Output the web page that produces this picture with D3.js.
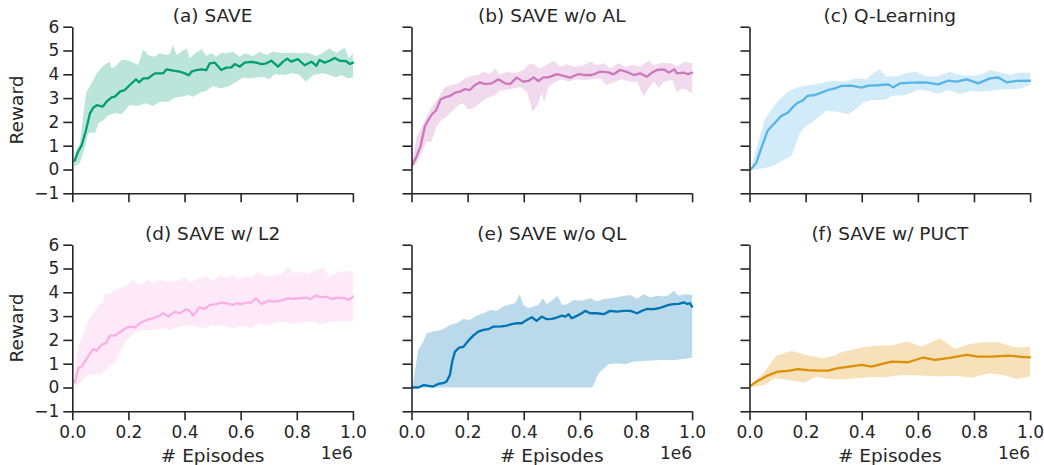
<!DOCTYPE html>
<html><head><meta charset="utf-8">
<script src="https://cdn.jsdelivr.net/npm/d3@7"></script>
<style>
body{margin:0;background:#fff;}
svg{display:block;font-family:"DejaVu Sans",sans-serif;}
</style></head><body>
<svg id="chart" width="1044" height="465"></svg>
<script>
// ---------- data (x in units of 1e6 episodes) ----------
const titles = ["(a) SAVE","(b) SAVE w/o AL","(c) Q-Learning","(d) SAVE w/ L2","(e) SAVE w/o QL","(f) SAVE w/ PUCT"];
const colors = ["#029e73","#cc78bc","#56b4e9","#fbafe4","#0173b2","#de8f05"];
const xTicks = [0,0.2,0.4,0.6,0.8,1.0];
const xTickLabels = ["0.0","0.2","0.4","0.6","0.8","1.0"];
const yTicks = [-1,0,1,2,3,4,5,6];
const yTickLabels = ["\u22121","0","1","2","3","4","5","6"];
const xLabel = "# Episodes", yLabel = "Reward", xOffsetLabel = "1e6";

const aMean = [[.008,.36],[.021,.76],[.033,1.0],[.049,1.66],[.063,2.36],[.075,2.6],[.087,2.7],[.108,2.64],[.122,2.85],[.14,3.03],[.152,3.06],[.17,3.27],[.187,3.34],[.205,3.55],[.227,3.79],[.238,3.66],[.253,3.83],[.27,3.83],[.294,4.04],[.324,4.04],[.336,4.21],[.36,4.15],[.383,4.11],[.401,4.04],[.415,3.96],[.425,4.11],[.442,4.18],[.46,4.21],[.478,4.18],[.49,4.46],[.508,4.49],[.531,4.18],[.549,4.28],[.567,4.29],[.579,4.43],[.597,4.32],[.614,4.49],[.638,4.52],[.656,4.49],[.674,4.43],[.692,4.46],[.709,4.57],[.733,4.32],[.751,4.53],[.766,4.66],[.78,4.53],[.804,4.64],[.828,4.38],[.852,4.53],[.87,4.36],[.881,4.6],[.899,4.49],[.917,4.57],[.935,4.69],[.953,4.57],[.976,4.55],[.99,4.43],[1,4.49]];
const aUpper = [[.008,.62],[.027,1.1],[.049,3.23],[.069,3.62],[.087,4.04],[.11,4.35],[.132,4.53],[.14,4.25],[.152,4.32],[.176,4.6],[.193,4.6],[.211,4.53],[.235,4.39],[.253,5.05],[.27,4.81],[.294,4.74],[.312,4.88],[.336,4.81],[.348,4.88],[.359,5.23],[.371,4.81],[.389,4.95],[.407,5.09],[.419,4.67],[.437,4.88],[.46,5.05],[.478,4.77],[.496,4.88],[.514,4.74],[.531,4.92],[.549,4.88],[.573,4.95],[.597,4.74],[.614,4.88],[.644,4.77],[.668,4.95],[.692,4.81],[.715,4.95],[.745,4.88],[.775,4.91],[.81,4.88],[.84,4.91],[.87,4.77],[.893,4.91],[.917,5.09],[.941,4.88],[.97,5.13],[.986,4.67],[1,4.88]];
const aLower = [[.008,.13],[.027,.27],[.045,.97],[.057,1.52],[.069,1.55],[.081,1.52],[.093,1.94],[.11,2.06],[.128,2.29],[.152,2.36],[.176,2.32],[.205,2.71],[.235,2.67],[.259,2.78],[.288,2.67],[.312,2.85],[.342,2.85],[.365,3.03],[.389,3.06],[.413,3.13],[.431,3.06],[.454,3.23],[.478,3.31],[.502,3.51],[.526,3.41],[.555,3.48],[.585,3.69],[.609,3.87],[.632,3.82],[.656,3.87],[.68,3.9],[.703,3.79],[.721,4.01],[.751,3.97],[.787,4.04],[.81,3.97],[.832,3.69],[.858,3.97],[.893,4.04],[.917,3.97],[.938,3.87],[.958,3.97],[.982,3.83],[1,3.87]];

const bMean = [[.004,.22],[.018,.55],[.032,.97],[.048,1.83],[.06,2.08],[.071,2.29],[.087,2.48],[.104,2.95],[.119,3.03],[.137,3.09],[.155,3.23],[.173,3.27],[.19,3.38],[.208,3.34],[.226,3.55],[.244,3.66],[.262,3.59],[.286,3.62],[.31,3.79],[.333,3.62],[.351,3.59],[.375,3.86],[.399,3.69],[.417,3.72],[.435,3.87],[.452,3.72],[.47,3.87],[.488,3.87],[.518,4.01],[.542,3.93],[.565,3.86],[.595,4.01],[.619,3.97],[.643,3.97],[.673,4.11],[.702,4.08],[.72,4.0],[.744,4.18],[.768,4.1],[.792,3.97],[.815,4.04],[.839,3.9],[.857,4.07],[.875,4.18],[.899,4.21],[.917,4.07],[.937,4.21],[.946,4.04],[.97,4.07],[.985,4.0],[1,4.07]];
const bUpper = [[.004,.41],[.018,1.38],[.032,1.66],[.048,2.08],[.071,2.62],[.095,2.99],[.119,3.48],[.143,3.55],[.167,3.62],[.196,3.87],[.214,3.93],[.238,3.97],[.256,4.11],[.28,4.01],[.298,4.25],[.315,3.97],[.339,4.11],[.369,4.04],[.399,4.18],[.417,4.42],[.435,4.43],[.458,4.25],[.482,4.39],[.508,4.57],[.53,4.32],[.554,4.42],[.577,4.32],[.607,4.35],[.637,4.53],[.661,4.39],[.685,4.46],[.708,4.25],[.738,4.46],[.762,4.32],[.792,4.39],[.815,4.32],[.845,4.57],[.863,4.39],[.893,4.49],[.923,4.46],[.946,4.35],[.976,4.53],[1,4.46]];
const bLower = [[.004,.08],[.018,.24],[.036,.69],[.054,1.17],[.071,1.17],[.089,1.8],[.107,2.08],[.125,2.22],[.149,2.5],[.167,2.71],[.185,2.78],[.202,2.53],[.22,2.57],[.244,2.78],[.268,2.99],[.298,3.13],[.315,3.31],[.339,3.34],[.363,3.41],[.387,3.48],[.411,3.27],[.432,2.43],[.449,2.71],[.464,3.2],[.473,2.81],[.488,3.48],[.512,3.69],[.536,3.79],[.56,3.69],[.583,3.79],[.613,3.76],[.643,3.79],[.673,3.83],[.696,3.55],[.726,3.69],[.75,3.79],[.78,3.69],[.804,3.69],[.827,3.06],[.845,3.41],[.863,3.69],[.881,3.41],[.899,3.69],[.929,3.76],[.946,3.23],[.964,3.41],[.982,3.34],[1,3.2]];

const cMean = [[.004,0],[.024,.27],[.042,.9],[.065,1.64],[.089,1.94],[.113,2.25],[.137,2.39],[.158,2.67],[.173,2.81],[.19,2.9],[.206,3.09],[.232,3.13],[.256,3.23],[.28,3.34],[.304,3.41],[.327,3.51],[.363,3.52],[.399,3.44],[.423,3.52],[.458,3.54],[.494,3.58],[.512,3.45],[.536,3.62],[.577,3.65],[.625,3.66],[.673,3.58],[.708,3.73],[.738,3.69],[.774,3.79],[.815,3.62],[.857,3.83],[.887,3.87],[.917,3.66],[.952,3.72],[1,3.73]];
const cUpper = [[.004,0],[.03,1.1],[.054,2.08],[.077,2.5],[.107,2.95],[.137,3.27],[.167,3.44],[.196,3.52],[.244,3.59],[.292,3.73],[.339,3.69],[.381,3.83],[.417,3.79],[.44,4.04],[.464,4.21],[.488,3.9],[.53,3.93],[.565,4.07],[.595,4.11],[.631,3.9],[.673,3.93],[.714,4.11],[.75,3.97],[.792,3.93],[.827,4.0],[.857,4.18],[.899,4.07],[.929,3.97],[.958,4.08],[1,4.07]];
const cLower = [[.004,0],[.03,.01],[.077,.13],[.113,.34],[.149,.57],[.179,1.52],[.202,1.83],[.232,2.06],[.274,2.48],[.315,2.43],[.351,2.32],[.375,2.5],[.405,2.81],[.435,2.92],[.482,2.92],[.506,3.09],[.554,3.13],[.601,3.34],[.637,3.31],[.673,3.17],[.708,3.34],[.75,3.17],[.792,3.31],[.815,3.27],[.863,3.31],[.911,3.37],[.958,3.38],[1,3.55]];

const dMean = [[.009,.22],[.021,.81],[.033,.88],[.051,1.2],[.075,1.62],[.087,1.55],[.104,1.79],[.12,1.86],[.134,2.18],[.152,2.18],[.17,2.32],[.193,2.52],[.211,2.56],[.223,2.52],[.241,2.7],[.265,2.84],[.288,2.91],[.312,3.02],[.324,3.12],[.342,2.98],[.365,3.19],[.383,3.12],[.405,3.29],[.419,3.22],[.431,3.02],[.454,3.37],[.472,3.3],[.49,3.47],[.514,3.5],[.531,3.57],[.549,3.54],[.573,3.47],[.585,3.54],[.603,3.5],[.62,3.57],[.638,3.57],[.654,3.75],[.674,3.51],[.698,3.64],[.721,3.61],[.739,3.64],[.769,3.75],[.786,3.72],[.81,3.75],[.834,3.78],[.848,3.71],[.867,3.86],[.887,3.79],[.905,3.82],[.923,3.72],[.947,3.78],[.97,3.75],[.986,3.68],[1,3.82]];
const dUpper = [[.009,.53],[.021,1.79],[.039,2.21],[.057,2.84],[.075,3.12],[.096,3.5],[.11,3.54],[.116,3.96],[.134,3.92],[.152,4.1],[.17,4.17],[.193,4.31],[.217,4.52],[.235,4.31],[.253,4.38],[.27,4.52],[.288,4.38],[.312,4.52],[.336,4.45],[.359,4.45],[.383,4.52],[.401,4.62],[.419,4.38],[.448,4.59],[.478,4.66],[.502,4.48],[.526,4.73],[.549,4.59],[.573,4.76],[.591,4.52],[.614,4.66],[.638,4.62],[.662,4.84],[.686,4.66],[.715,4.73],[.745,4.76],[.769,5.03],[.786,4.8],[.81,4.87],[.84,4.76],[.87,4.94],[.893,5.03],[.917,4.66],[.947,4.84],[.976,4.9],[1,4.87]];
const dLower = [[.009,0],[.027,.18],[.051,.5],[.075,.56],[.098,.56],[.116,.67],[.134,.95],[.152,1.02],[.17,1.51],[.193,2.0],[.223,2.32],[.253,2.42],[.288,2.42],[.324,2.49],[.348,2.42],[.383,2.56],[.419,2.63],[.442,2.56],[.466,2.49],[.502,2.63],[.537,2.6],[.573,2.49],[.609,2.6],[.638,2.49],[.668,2.7],[.692,2.6],[.721,2.7],[.757,2.77],[.786,2.66],[.816,2.74],[.846,2.77],[.881,2.66],[.917,2.74],[.958,2.8],[1,2.77]];

const eMean = [[.004,0],[.024,0],[.044,.1],[.06,.07],[.077,.04],[.095,.15],[.113,.18],[.125,.25],[.137,.53],[.145,1.09],[.155,1.51],[.17,1.68],[.185,1.71],[.202,1.96],[.22,2.18],[.238,2.35],[.256,2.42],[.274,2.45],[.292,2.56],[.321,2.57],[.339,2.6],[.357,2.66],[.375,2.7],[.393,2.7],[.411,2.84],[.429,2.95],[.446,2.8],[.464,2.98],[.482,2.87],[.5,2.88],[.518,2.94],[.536,3.02],[.548,2.98],[.56,3.08],[.571,2.91],[.589,3.01],[.607,3.12],[.619,3.22],[.637,3.12],[.661,3.12],[.685,3.08],[.708,3.22],[.732,3.19],[.756,3.22],[.78,3.22],[.804,3.12],[.821,3.22],[.839,3.3],[.863,3.29],[.881,3.33],[.899,3.4],[.917,3.47],[.935,3.5],[.952,3.51],[.97,3.58],[.982,3.51],[.992,3.54],[1,3.4]];
const eUpper = [[.004,0],[.012,.67],[.024,1.58],[.042,1.93],[.054,2.28],[.077,2.35],[.107,2.42],[.137,2.63],[.161,2.7],[.185,2.88],[.208,2.84],[.232,3.02],[.256,3.12],[.28,3.26],[.304,3.22],[.327,3.4],[.351,3.5],[.369,3.54],[.385,3.92],[.399,3.47],[.417,3.33],[.435,3.4],[.452,3.47],[.468,3.75],[.482,3.5],[.5,3.64],[.52,3.86],[.536,3.47],[.554,3.5],[.577,3.68],[.607,3.64],[.637,3.75],[.661,3.61],[.685,3.72],[.714,3.75],[.744,3.82],[.78,3.89],[.804,3.72],[.827,3.92],[.851,3.78],[.875,3.86],[.899,3.82],[.917,3.89],[.935,4.06],[.952,3.86],[.976,3.92],[1,3.89]];
const eLower = [[.004,0],[.643,0],[.649,.11],[.661,.46],[.673,.67],[.702,.98],[.732,1.02],[.762,.98],[.792,1.09],[.839,1.12],[.887,1.16],[.935,1.16],[.97,1.2],[1,1.26]];

const fMean = [[.004,.08],[.03,.28],[.065,.5],[.101,.67],[.137,.7],[.173,.77],[.208,.73],[.244,.71],[.28,.71],[.315,.81],[.351,.87],[.399,.95],[.435,.88],[.47,.98],[.506,1.09],[.565,1.06],[.619,1.26],[.661,1.16],[.708,1.23],[.774,1.37],[.815,1.3],[.863,1.3],[.923,1.34],[.97,1.29],[1,1.27]];
const fUpper = [[.004,.08],[.054,.67],[.095,1.33],[.149,1.54],[.208,1.34],[.262,1.23],[.304,1.34],[.327,1.48],[.399,1.68],[.458,1.76],[.506,1.76],[.56,1.93],[.613,1.72],[.679,2.07],[.732,1.62],[.78,1.82],[.833,1.9],[.887,1.9],[.935,1.72],[.97,1.68],[1,1.72]];
const fLower = [[.004,0],[.054,.11],[.089,.39],[.137,.32],[.196,.21],[.238,.46],[.28,.36],[.339,.36],[.387,.39],[.435,.45],[.482,.42],[.518,.5],[.577,.53],[.625,.49],[.685,.46],[.732,.49],[.792,.42],[.857,.6],[.911,.5],[.952,.36],[1,.46]];

const means = [aMean,bMean,cMean,dMean,eMean,fMean];
const uppers = [aUpper,bUpper,cUpper,dUpper,eUpper,fUpper];
const lowers = [aLower,bLower,cLower,dLower,eLower,fLower];

// ---------- layout ----------
const colX = [72.3, 411.5, 749.5];
const rowY = [26.7, 244.7];
const W = 280.6, H = 166.6;
const ink = "#262626";

const svg = d3.select("#chart");

for (let i = 0; i < 6; i++) {
  const col = i % 3, row = Math.floor(i / 3);
  const g = svg.append("g").attr("transform", `translate(${colX[col]},${rowY[row]})`);
  const x = d3.scaleLinear().domain([0, 1]).range([0, W]);
  const y = d3.scaleLinear().domain([-1, 6]).range([H, 0]);
  const line = d3.line().x(d => x(d[0])).y(d => y(d[1]));

  // band
  const poly = uppers[i].concat(lowers[i].slice().reverse());
  g.append("path").attr("d", line(poly) + "Z")
    .attr("fill", colors[i]).attr("fill-opacity", 0.27).attr("stroke", "none");
  // mean
  g.append("path").attr("d", line(means[i]))
    .attr("fill", "none").attr("stroke", colors[i]).attr("stroke-width", 2.3)
    .attr("stroke-linejoin", "round").attr("stroke-linecap", "round");

  // axes
  const yAxis = d3.axisLeft(y).tickValues(yTicks).tickSize(9).tickSizeOuter(0).tickPadding(4)
    .tickFormat((d, k) => col === 0 ? yTickLabels[k] : "");
  const xAxis = d3.axisBottom(x).tickValues(xTicks).tickSize(9).tickSizeOuter(0).tickPadding(6)
    .tickFormat((d, k) => row === 1 ? xTickLabels[k] : "");
  const ya = g.append("g").call(yAxis);
  const xa = g.append("g").attr("transform", `translate(0,${H})`).call(xAxis);
  [ya, xa].forEach(a => {
    a.selectAll("path,line").attr("stroke", ink).attr("stroke-width", 1.6);
    a.selectAll("text").attr("fill", ink).style("font-size", "17px").style("font-family", "DejaVu Sans");
  });

  // title
  g.append("text").attr("x", W / 2).attr("y", -5).attr("text-anchor", "middle")
    .attr("fill", ink).style("font-size", "18.5px").text(titles[i]);

  if (col === 0) {
    g.append("text").attr("transform", `translate(${-49},${H / 2}) rotate(-90)`)
      .attr("text-anchor", "middle").attr("fill", ink).style("font-size", "18.5px").text(yLabel);
  }
  if (row === 1) {
    g.append("text").attr("x", W / 2).attr("y", H + 51).attr("text-anchor", "middle")
      .attr("fill", ink).style("font-size", "18.5px").text(xLabel);
    g.append("text").attr("x", W).attr("y", H + 48).attr("text-anchor", "end")
      .attr("fill", ink).style("font-size", "17px").text(xOffsetLabel);
  }
}
</script>
</body></html>
